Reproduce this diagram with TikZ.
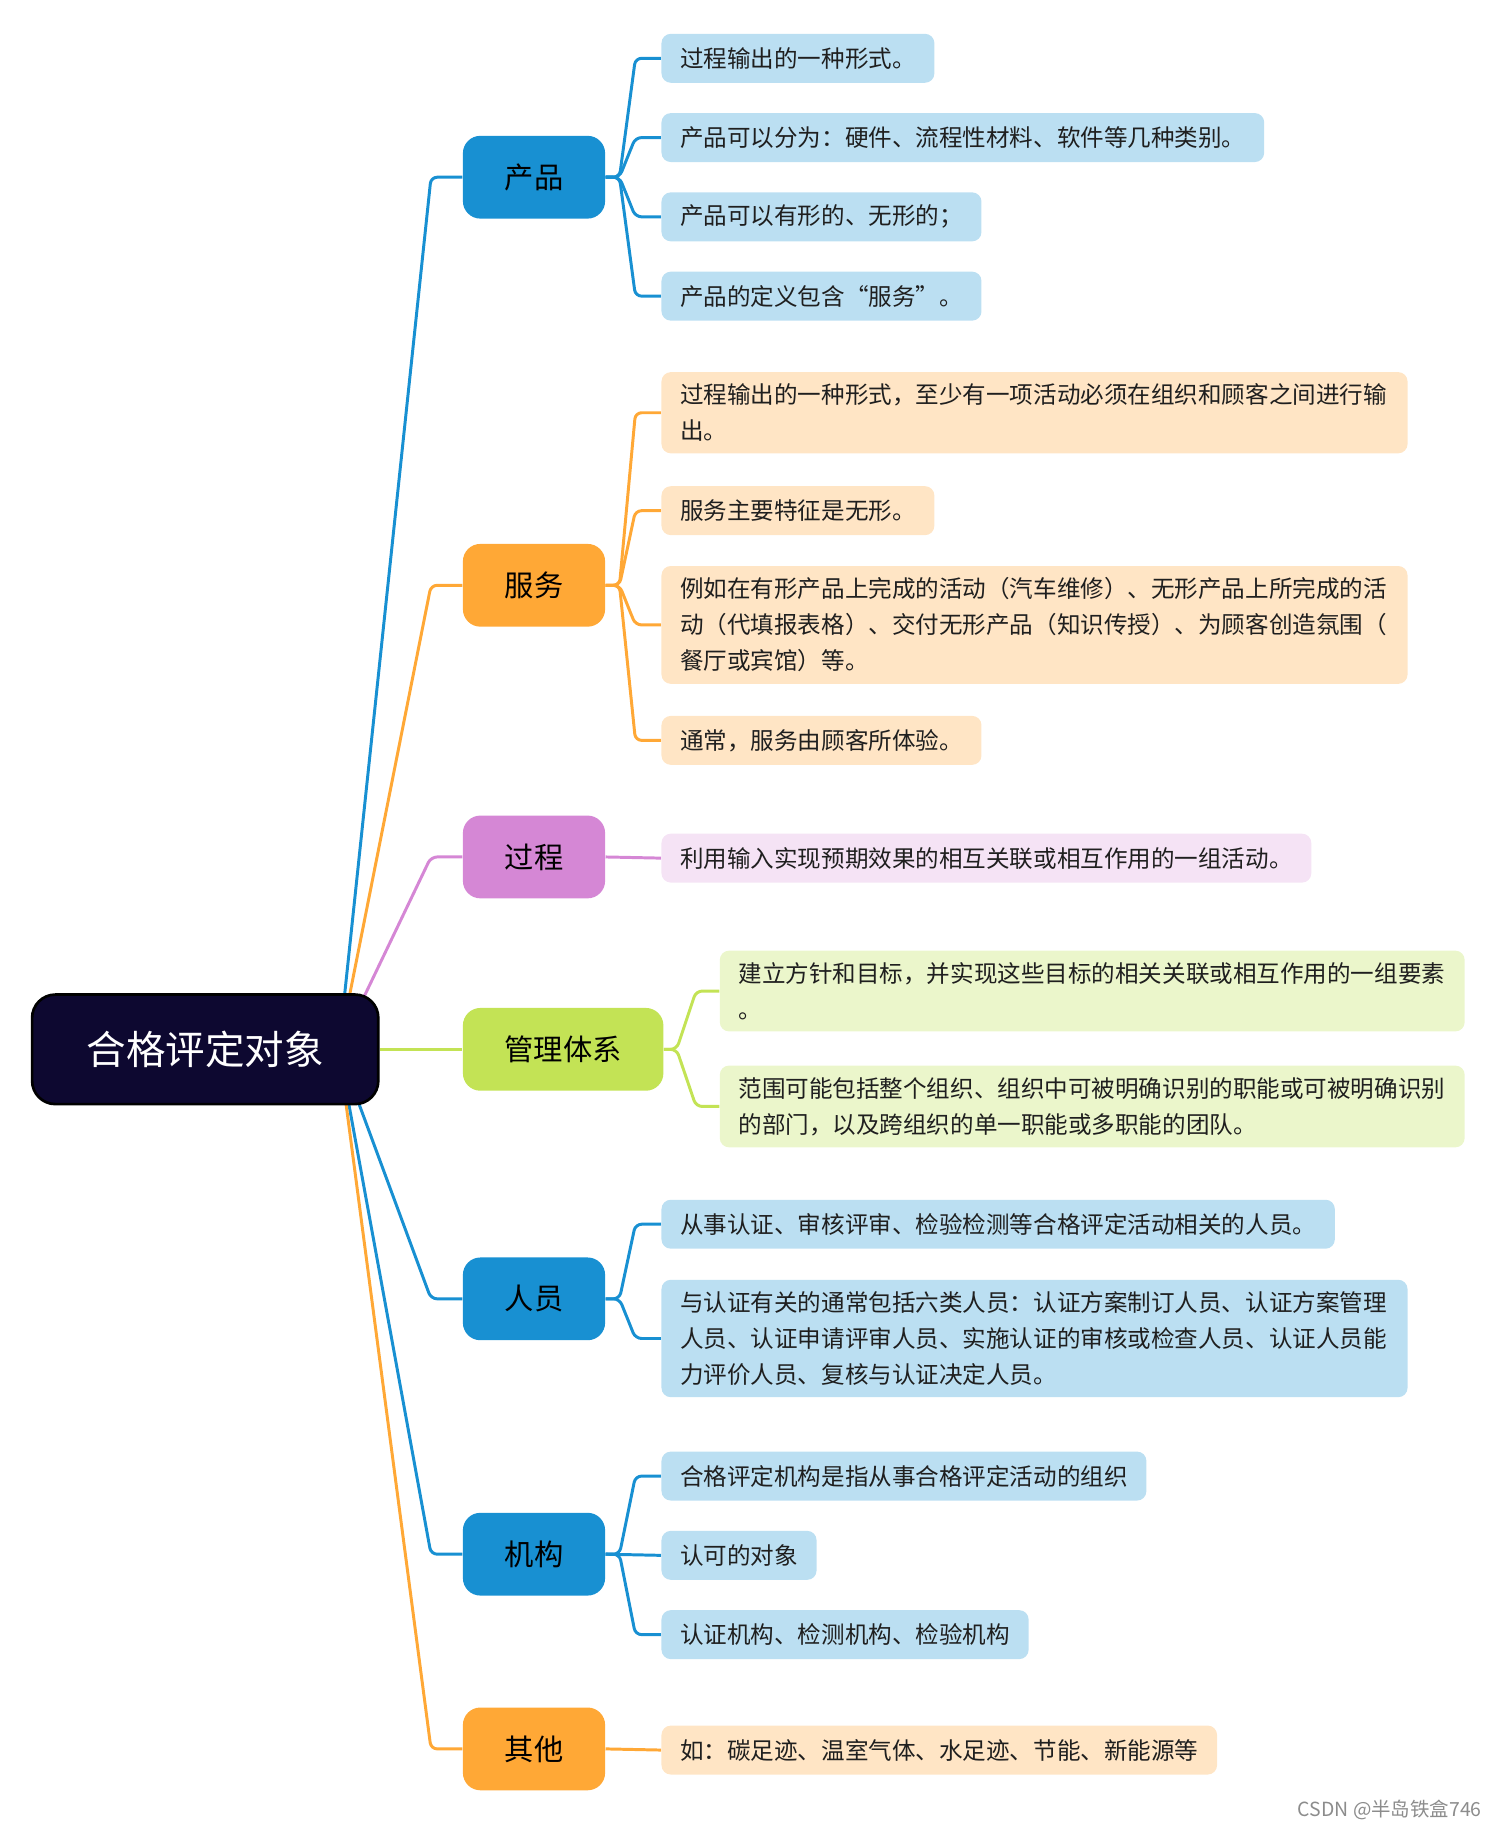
\documentclass[tikz,border=0pt]{standalone}
\usepackage{fontspec}
\newfontfamily\cjk{Noto Sans CJK SC}
\usepackage{xcolor}
\usetikzlibrary{backgrounds}
\definecolor{croot}{HTML}{0D0830}
\definecolor{cblue}{HTML}{1890D2}
\definecolor{lblue}{HTML}{BBDFF2}
\definecolor{corange}{HTML}{FFA836}
\definecolor{lorange}{HTML}{FFE5C5}
\definecolor{cviolet}{HTML}{D587D5}
\definecolor{lviolet}{HTML}{F5E3F5}
\definecolor{cgreen}{HTML}{C3E355}
\definecolor{lgreen}{HTML}{EBF6CB}
\tikzset{
  root/.style = {draw = black, line width = 1.3pt, fill = croot, text = white, rounded corners = 0.4cm,
    minimum width = 5.94cm, minimum height = 1.88cm, font = \cjk\fontsize{19.3}{23}\selectfont},
  topic/.style = {rounded corners = 0.3cm, minimum width = 2.44cm, minimum height = 1.42cm, text = black,
    font = \cjk\fontsize{14.3}{17}\selectfont},
  leaf/.style = {anchor = west, align = left, rounded corners = 0.16cm, inner xsep = 0.32cm, inner ysep = 0.2cm,
    minimum height = 0.84cm, text = black!88, font = \cjk\fontsize{11.5}{17.6}\selectfont},
  wide/.style = {leaf, text width = 12.16cm},
  link/.style = {line width = 1.45pt, rounded corners = 3pt}
}
\begin{document}
\begin{tikzpicture}[x = 0.02cm, y = -0.02cm]
    \useasboundingbox (0, 0) rectangle (1284, 1567);
    \node[root] (root) at (176, 900) {合格评定对象};
    \node[topic, fill = cblue] (product) at (458, 152) {产品};
    \node[topic, fill = corange] (service) at (458, 502) {服务};
    \node[topic, fill = cviolet] (process) at (458, 735) {过程};
    \node[topic, fill = cgreen, minimum width = 3.44cm] (system) at (483, 900) {管理体系};
    \node[topic, fill = cblue] (staff) at (458, 1114) {人员};
    \node[topic, fill = cblue] (body) at (458, 1333) {机构};
    \node[topic, fill = corange] (other) at (458, 1500) {其他};
    \node[leaf, fill = lblue] (product1) at (567, 50) {过程输出的一种形式。};
    \node[leaf, fill = lblue] (product2) at (567, 118) {产品可以分为：硬件、流程性材料、软件等几种类别。};
    \node[leaf, fill = lblue] (product3) at (567, 186) {产品可以有形的、无形的；};
    \node[leaf, fill = lblue] (product4) at (567, 254) {产品的定义包含“服务”。};
    \node[wide, fill = lorange] (service1) at (567, 354) {过程输出的一种形式，至少有一项活动必须在组织和顾客之间进行输\\出。};
    \node[leaf, fill = lorange] (service2) at (567, 438) {服务主要特征是无形。};
    \node[wide, fill = lorange] (service3) at (567, 536) {例如在有形产品上完成的活动（汽车维修）、无形产品上所完成的活\\动（代填报表格）、交付无形产品（知识传授）、为顾客创造氛围（\\餐厅或宾馆）等。};
    \node[leaf, fill = lorange] (service4) at (567, 635) {通常，服务由顾客所体验。};
    \node[leaf, fill = lviolet] (process1) at (567, 736) {利用输入实现预期效果的相互关联或相互作用的一组活动。};
    \node[wide, fill = lgreen, text width = 12.14cm] (system1) at (617, 850) {建立方针和目标，并实现这些目标的相关关联或相互作用的一组要素\\。};
    \node[wide, fill = lgreen, text width = 12.14cm] (system2) at (617, 949) {范围可能包括整个组织、组织中可被明确识别的职能或可被明确识别\\的部门，以及跨组织的单一职能或多职能的团队。};
    \node[leaf, fill = lblue] (staff1) at (567, 1050) {从事认证、审核评审、检验检测等合格评定活动相关的人员。};
    \node[wide, fill = lblue] (staff2) at (567, 1148) {与认证有关的通常包括六类人员：认证方案制订人员、认证方案管理\\人员、认证申请评审人员、实施认证的审核或检查人员、认证人员能\\力评价人员、复核与认证决定人员。};
    \node[leaf, fill = lblue] (body1) at (567, 1266) {合格评定机构是指从事合格评定活动的组织};
    \node[leaf, fill = lblue] (body2) at (567, 1334) {认可的对象};
    \node[leaf, fill = lblue] (body3) at (567, 1402) {认证机构、检测机构、检验机构};
    \node[leaf, fill = lorange] (other1) at (567, 1501) {如：碳足迹、温室气体、水足迹、节能、新能源等};
    \node[text = black!45, font = \cjk\fontsize{9.5}{11}\selectfont] (mark) at (1192, 1552) {CSDN @半岛铁盒746};
    \begin{scope}[on background layer]
      \coordinate (hub) at ([xshift = -0.7cm]root.east);
      \draw[link, cblue] (hub) -- ([xshift = -0.54cm]product.west) -- (product.west);
      \draw[link, corange] (hub) -- ([xshift = -0.54cm]service.west) -- (service.west);
      \draw[link, cviolet] (hub) -- ([xshift = -0.54cm]process.west) -- (process.west);
      \draw[link, cgreen] (root.east) -- (system.west);
      \draw[link, cblue] (hub) -- ([xshift = -0.54cm]staff.west) -- (staff.west);
      \draw[link, cblue] (hub) -- ([xshift = -0.54cm]body.west) -- (body.west);
      \draw[link, corange] (hub) -- ([xshift = -0.54cm]other.west) -- (other.west);
      \draw[link, cblue] (product.east) -- ++(0.24cm, 0) -- ([xshift = -0.44cm]product1.west) -- (product1.west);
      \draw[link, cblue] (product.east) -- ++(0.24cm, 0) -- ([xshift = -0.44cm]product2.west) -- (product2.west);
      \draw[link, cblue] (product.east) -- ++(0.24cm, 0) -- ([xshift = -0.44cm]product3.west) -- (product3.west);
      \draw[link, cblue] (product.east) -- ++(0.24cm, 0) -- ([xshift = -0.44cm]product4.west) -- (product4.west);
      \draw[link, corange] (service.east) -- ++(0.24cm, 0) -- ([xshift = -0.44cm]service1.west) -- (service1.west);
      \draw[link, corange] (service.east) -- ++(0.24cm, 0) -- ([xshift = -0.44cm]service2.west) -- (service2.west);
      \draw[link, corange] (service.east) -- ++(0.24cm, 0) -- ([xshift = -0.44cm]service3.west) -- (service3.west);
      \draw[link, corange] (service.east) -- ++(0.24cm, 0) -- ([xshift = -0.44cm]service4.west) -- (service4.west);
      \draw[link, cviolet] (process.east) -- (process1.west);
      \draw[link, cgreen] (system.east) -- ++(0.22cm, 0) -- ([xshift = -0.4cm]system1.west) -- (system1.west);
      \draw[link, cgreen] (system.east) -- ++(0.22cm, 0) -- ([xshift = -0.4cm]system2.west) -- (system2.west);
      \draw[link, cblue] (staff.east) -- ++(0.24cm, 0) -- ([xshift = -0.44cm]staff1.west) -- (staff1.west);
      \draw[link, cblue] (staff.east) -- ++(0.24cm, 0) -- ([xshift = -0.44cm]staff2.west) -- (staff2.west);
      \draw[link, cblue] (body.east) -- ++(0.24cm, 0) -- ([xshift = -0.44cm]body1.west) -- (body1.west);
      \draw[link, cblue] (body.east) -- (body2.west);
      \draw[link, cblue] (body.east) -- ++(0.24cm, 0) -- ([xshift = -0.44cm]body3.west) -- (body3.west);
      \draw[link, corange] (other.east) -- (other1.west);
    \end{scope}
  \end{tikzpicture}
\end{document}
